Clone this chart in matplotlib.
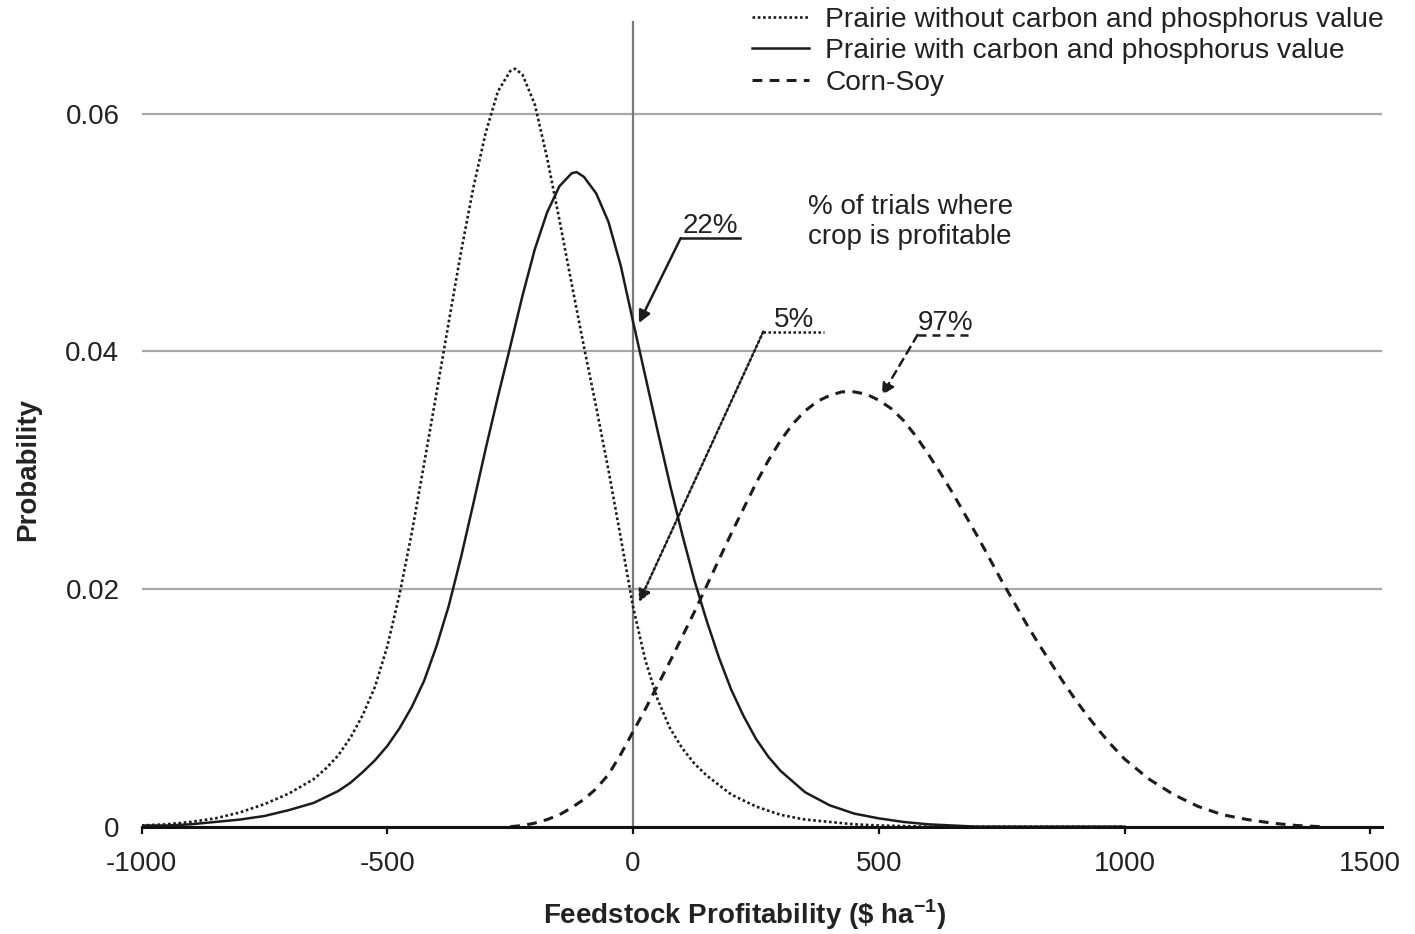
import matplotlib
matplotlib.use("Agg")
import matplotlib.pyplot as plt

plt.rcParams['font.family'] = ['Liberation Sans', 'DejaVu Sans']
plt.rcParams['mathtext.fontset'] = 'custom'
plt.rcParams['mathtext.rm'] = 'Liberation Sans'
plt.rcParams['mathtext.bf'] = 'Liberation Sans:bold'
plt.rcParams['axes.unicode_minus'] = False

# prairie without carbon and phosphorus value (dotted)
x_without = [-1000, -950, -900, -850, -800, -750, -700, -650, -625, -600, -575,
             -550, -525, -500, -475, -450, -425, -400, -375, -350, -325, -300,
             -275, -250, -240, -225, -200, -175, -150, -125, -100, -75, -50,
             -25, 0, 25, 50, 75, 100, 125, 150, 200, 250, 300, 350, 400, 450,
             500, 600, 800, 1000]
p_without = [0.0001, 0.0002, 0.0004, 0.0007, 0.0012, 0.0019, 0.0028, 0.0040,
             0.0049, 0.0060, 0.0075, 0.0094, 0.0118, 0.0152, 0.0196, 0.0248,
             0.0306, 0.0365, 0.0425, 0.0484, 0.0538, 0.0584, 0.0619, 0.0636,
             0.0638, 0.0633, 0.0608, 0.0563, 0.0511, 0.0457, 0.0404, 0.0353,
             0.0300, 0.0243, 0.0185, 0.0140, 0.0107, 0.0083, 0.0066, 0.0053,
             0.0043, 0.0027, 0.0017, 0.0010, 0.0006, 0.0004, 0.0002, 0.0001,
             0.0, 0.0, 0.0]

# prairie with carbon and phosphorus value (solid)
x_with = [-1000, -950, -900, -850, -800, -750, -700, -650, -600, -575, -550,
          -525, -500, -475, -450, -425, -400, -375, -350, -325, -300, -275,
          -250, -225, -200, -175, -150, -125, -115, -100, -75, -50, -25, 0, 25,
          50, 75, 100, 125, 150, 175, 200, 225, 250, 275, 300, 350, 400, 450,
          500, 550, 600, 650, 700, 1000]
p_with = [0.0001, 0.0001, 0.0002, 0.0004, 0.0006, 0.0009, 0.0014, 0.0020,
          0.0030, 0.0037, 0.0046, 0.0056, 0.0068, 0.0083, 0.0101, 0.0123,
          0.0152, 0.0186, 0.0227, 0.0272, 0.0318, 0.0362, 0.0404, 0.0447,
          0.0486, 0.0517, 0.0539, 0.0550, 0.0551, 0.0547, 0.0533, 0.0509,
          0.0472, 0.0425, 0.0379, 0.0333, 0.0288, 0.0246, 0.0207, 0.0173,
          0.0142, 0.0115, 0.0093, 0.0074, 0.0059, 0.0047, 0.0029, 0.0018,
          0.0011, 0.0007, 0.0004, 0.0002, 0.0001, 0.0, 0.0]

# corn-soy (dashed)
x_corn = [-250, -225, -200, -175, -150, -125, -100, -75, -50, -25, 0, 25, 50,
          75, 100, 125, 150, 175, 200, 225, 250, 275, 300, 325, 350, 375, 400,
          425, 450, 475, 500, 525, 550, 575, 600, 625, 650, 675, 700, 725, 750,
          775, 800, 825, 850, 875, 900, 925, 950, 975, 1000, 1050, 1100, 1150,
          1200, 1250, 1300, 1350, 1400]
p_corn = [0.0, 0.0001, 0.0003, 0.0006, 0.0010, 0.0016, 0.0023, 0.0032, 0.0044,
          0.0061, 0.0080, 0.0099, 0.0119, 0.0139, 0.0160, 0.0181, 0.0203,
          0.0225, 0.0247, 0.0268, 0.0289, 0.0308, 0.0325, 0.0339, 0.0350,
          0.0358, 0.0363, 0.0366, 0.0366, 0.0364, 0.0359, 0.0352, 0.0342,
          0.0329, 0.0314, 0.0298, 0.0281, 0.0263, 0.0245, 0.0226, 0.0207,
          0.0189, 0.0171, 0.0154, 0.0138, 0.0122, 0.0107, 0.0093, 0.0080,
          0.0068, 0.0057, 0.0040, 0.0027, 0.0017, 0.0010, 0.0006, 0.0003,
          0.0001, 0.0]

labels = ['Prairie without carbon and phosphorus value',
          'Prairie with carbon and phosphorus value',
          'Corn-Soy']
profitable = ['22%', '5%', '97%']

ink = '#1c1c1c'
fs = 20
dotted = (0, (1, 1))
dashed = (0, (3.2, 2.4))

fig = plt.figure(figsize=(14.15, 9.34), dpi=100)
ax = fig.add_axes([0.1001, 0.1149, 0.8766, 0.8624])

ax.axvline(0, color='#7a7a7a', lw=1.6, zorder=1)
l1, = ax.plot(x_without, p_without, color=ink, lw=1.9, linestyle=dotted, zorder=3)
l2, = ax.plot(x_with, p_with, color=ink, lw=1.8, zorder=3)
l3, = ax.plot(x_corn, p_corn, color=ink, lw=2.2, linestyle=dashed, zorder=3)

ax.set_xlim(-1000, 1524)
ax.set_ylim(0, 0.0678)
ax.set_xticks([-1000, -500, 0, 500, 1000, 1500])
ax.set_yticks([0, 0.02, 0.04, 0.06])
ax.set_yticklabels(['0', '0.02', '0.04', '0.06'])
ax.yaxis.grid(True, color='#a8a8a8', lw=1.6)
ax.set_axisbelow(True)
for s in ['top', 'right', 'left']:
    ax.spines[s].set_visible(False)
ax.spines['bottom'].set_linewidth(2.2)
ax.spines['bottom'].set_color('#111111')
ax.spines['bottom'].set_zorder(4)
ax.tick_params(axis='x', direction='out', length=5, width=1.6, color='#111111',
               labelsize=fs, pad=12.5, labelcolor='#222222')
ax.tick_params(axis='y', length=0, labelsize=fs, pad=16, labelcolor='#222222')

# percentage call-outs
callouts = [
    (profitable[0], 97, 217, 0.04955, (12, 0.0424), '-'),
    (profitable[1], 265, 389, 0.04167, (12, 0.0189), dotted),
    (profitable[2], 579, 693, 0.0414, (506, 0.0363), dashed),
]
for txt, xa, xb, yu, tip, ls in callouts:
    ax.plot([xa, xb], [yu, yu], color=ink, lw=1.8, linestyle=ls, zorder=3)
    ax.text((xa + xb) / 2, yu - 0.0001, txt, ha='center', va='bottom',
            fontsize=fs, color='#222222')
    ax.annotate('', xy=tip, xytext=(xa, yu),
                arrowprops=dict(arrowstyle='-|>', color=ink, lw=1.8,
                                linestyle=ls, mutation_scale=18,
                                shrinkA=0, shrinkB=0))

ax.text(355, 0.0509, '% of trials where\ncrop is profitable', ha='left',
        va='center', fontsize=fs, color='#222222', linespacing=1.2)

ax.legend([l1, l2, l3], labels, loc='upper right',
          bbox_to_anchor=(1387 / 1415, 0.996), bbox_transform=fig.transFigure,
          frameon=False, borderpad=0.1, borderaxespad=0, handlelength=2.0,
          handletextpad=0.6, labelspacing=0.2, fontsize=20.3,
          labelcolor='#222222')

fig.text(0.0198, 0.4968, 'Probability', rotation=90, fontsize=fs,
         fontweight='bold', ha='center', va='center', color='#222222')
fig.text(0.5265, 0.0203, r'Feedstock Profitability (\$ ha$^{\mathbf{-1}}$)',
         fontsize=fs, fontweight='bold', ha='center', va='center',
         color='#222222')

fig.savefig('out.png', dpi=100)
